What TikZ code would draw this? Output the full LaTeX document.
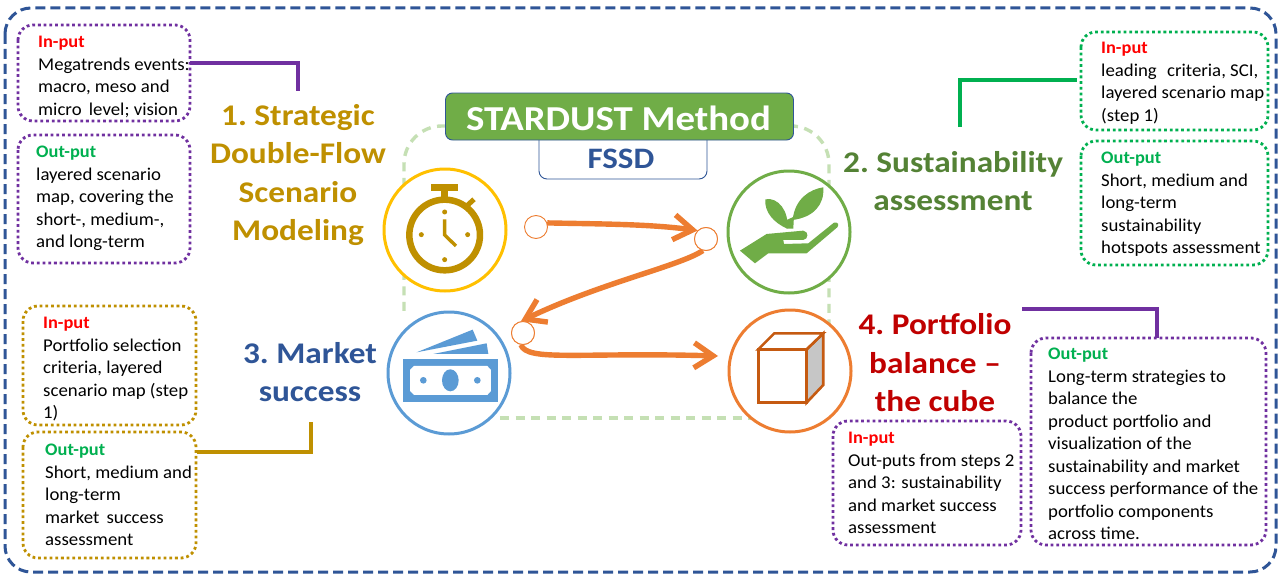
\documentclass[tikz,border=0pt]{standalone}
\usepackage{fontspec}
\setmainfont[FakeStretch=1.045]{Carlito}
\newfontfamily\ttlfont[FakeStretch=1.11]{Carlito}
\usetikzlibrary{arrows.meta,calc}
\definecolor{navy}{HTML}{2F5597}
\definecolor{gold}{HTML}{BF9000}
\definecolor{yel}{HTML}{FFC000}
\definecolor{grn}{HTML}{70AD47}
\definecolor{dgrn}{HTML}{548235}
\definecolor{sky}{HTML}{5B9BD5}
\definecolor{org}{HTML}{ED7D31}
\definecolor{rust}{HTML}{C55A11}
\definecolor{purp}{HTML}{7030A0}
\definecolor{lgrn}{HTML}{C5E0B4}
\definecolor{ogrn}{HTML}{00B050}
\definecolor{dred}{HTML}{C00000}
\tikzset{
 x=1pt,y=-1pt,
 dotbox/.style={draw=#1,line width=2.8pt,dash pattern=on 2.8pt off 2.9pt,rounded corners=15pt},
 txt/.style={anchor=north west,align=left,inner sep=0pt,font=\fontsize{18}{22.5}\selectfont,text=black},
 ttl/.style={align=center,inner sep=0pt,font=\ttlfont\fontsize{30}{38.5}\selectfont\bfseries\frenchspacing},
 ring/.style={circle,draw=#1,line width=3pt,fill=white,minimum size=122pt,inner sep=0pt},
 dot/.style={circle,draw=org,line width=0.9pt,fill=white,minimum size=23pt,inner sep=0pt},
 flow/.style={draw=org,line width=5.4pt,-{Straight Barb[length=19pt,width=25pt,line width=5.4pt]}},
 link/.style={line width=3.4pt},
}
\newcommand{\inp}{{\fontsize{17.6}{22.5}\selectfont\bfseries\textcolor{red}{In-put}}}
\newcommand{\oup}{{\fontsize{17.6}{22.5}\selectfont\bfseries\textcolor{ogrn}{Out-put}}}
\begin{document}
\begin{tikzpicture}
\useasboundingbox (0,0) rectangle (1280,578);
\fill[white] (0,0) rectangle (1280,578);
\draw[navy,line width=3pt,dash pattern=on 10pt off 5pt,rounded corners=26pt] (5,8) rectangle (1276,572);
% inner dashed frame
\draw[lgrn,line width=3.4pt,dash pattern=on 9pt off 6.5pt,rounded corners=38pt] (446,126) -- (404,126) -- (404,314);
\draw[lgrn,line width=3.4pt,dash pattern=on 9pt off 6.5pt,rounded corners=38pt] (793,126) -- (829,126) -- (829,340);
\draw[lgrn,line width=3.4pt,dash pattern=on 9pt off 6.5pt] (500,418) -- (760,418);
% header
\node[draw=navy,line width=0.9pt,fill=white,minimum width=168pt,minimum height=59pt,inner sep=0pt,rounded corners=8pt] (fssdbox) at (623,149.5) {};
\node[text=navy,inner sep=0pt,font=\ttlfont\fontsize{29.7}{30}\selectfont\bfseries] (fssd) at (621,159) {FSSD};
\node[draw=navy,line width=0.9pt,fill=grn,minimum width=348pt,minimum height=47pt,inner sep=0pt,rounded corners=7pt] (headbox) at (619.5,116.5) {};
\node[text=white,inner sep=0pt,font=\ttlfont\fontsize{35}{36}\selectfont\bfseries] (head) at (618.5,118) {STARDUST Method};
% boxes
\draw[dotbox=purp] (18,25) rectangle (190,121);
\node[txt] at (38,36) {\inp\\Megatrends events:\\macro, meso and\\micro\, level; vision};
\draw[dotbox=purp] (18,135) rectangle (190,263);
\node[txt] at (36,146) {\oup\\layered scenario\\map, covering the\\short-, medium-,\\and long-term};
\draw[dotbox=ogrn] (1081,32) rectangle (1268,130);
\node[txt] at (1101,42) {\inp\\leading\,\, criteria, SCI,\\layered scenario map\\(step 1)};
\draw[dotbox=ogrn] (1081,141) rectangle (1268,265);
\node[txt] at (1101,152) {\oup\\Short, medium and\\long-term\\sustainability\\hotspots assessment};
\draw[dotbox=gold] (23,306) rectangle (196,425);
\node[txt] at (43,317) {\inp\\Portfolio selection\\criteria, layered\\scenario map (step\\1)};
\draw[dotbox=gold] (23,432) rectangle (196,558);
\node[txt] at (45,444) {\oup\\Short, medium and\\long-term\\market\, success\\assessment};
\draw[dotbox=purp] (833,421) rectangle (1021,545);
\node[txt] at (848,432) {\inp\\Out-puts from steps 2\\and 3: sustainability\\and market success\\assessment};
\draw[dotbox=purp] (1031,338) rectangle (1266,545);
\node[txt] at (1048,348) {\oup\\Long-term strategies to\\balance the\\product portfolio and\\visualization of the\\sustainability and market\\success performance of the\\portfolio components\\across time.};
% titles
\node[ttl,text=gold] (t1) at (298,175) {1. Strategic\\Double-Flow\\Scenario\\Modeling};
\node[ttl,text=dgrn] (t2) at (953,181) {2. Sustainability\\assessment};
\node[ttl,text=navy] (t3) at (310,372) {3. Market\\success};
\node[ttl,text=dred] (t4) at (935,363) {4. Portfolio\\balance –\\the cube};
% links
\coordinate (l1a) at (190,63); \coordinate (l1b) at (298,91);
\draw[link,purp] (l1a) -| (l1b);
\coordinate (l2a) at (960,127); \coordinate (l2b) at (1077,80);
\draw[link,ogrn] (l2a) |- (l2b);
\coordinate (l3a) at (197,452); \coordinate (l3b) at (311,422);
\draw[link,gold] (l3a) -| (l3b);
\coordinate (l4a) at (1022,309); \coordinate (l4b) at (1157,338);
\draw[link,purp] (l4a) -| (l4b);
% rings
\node[ring=yel] (clock) at (445,230) {};
\node[ring=grn] (plant) at (789,232) {};
\node[ring=sky] (money) at (449,373) {};
\node[ring=org] (cube) at (790,371) {};
% icons in zoom coordinates
\begin{scope}[shift={(370,80)},x=0.3333pt,y=-0.3333pt]
 % clock
 \draw[gold,line width=6.5pt] (224,465) circle[radius=106];
 \fill[gold] (182,312) rectangle (265,332);
 \fill[gold] (214,332) rectangle (234,365);
 \draw[gold,line width=5pt] (290,378) -- (312,358);
 \draw[gold,line width=3.4pt] (224,418) -- (224,465) -- (258,498);
 \foreach \p in {(224,396),(224,539),(154,464),(293,464)} \fill[gold] \p circle[radius=7.5];
 % plant
 \fill[grn] (1110,512) -- (1190,462) -- (1300,452) .. controls (1318,455) and (1315,478) .. (1300,480) -- (1240,480) -- (1242,492) -- (1315,490) -- (1392,428) .. controls (1405,425) and (1408,435) .. (1402,442) -- (1310,520) -- (1195,520) -- (1155,550) -- cycle;
 \fill[grn] (1252,446) .. controls (1258,395) and (1225,350) .. (1186,358) .. controls (1183,395) and (1210,428) .. (1252,446) -- cycle;
 \fill[grn] (1268,420) .. controls (1275,355) and (1320,328) .. (1360,322) .. controls (1364,375) and (1330,412) .. (1268,420) -- cycle;
 \fill[grn] (1250,420) -- (1272,410) -- (1270,446) -- (1250,446) -- cycle;
 % money
 \fill[sky] (100,838) rectangle (383,966);
 \fill[white] (132,858) -- (352,858) -- (363,870) -- (363,933) -- (352,945) -- (132,945) -- (120,933) -- (120,870) -- cycle;
 \fill[sky] (241,901) ellipse[x radius=25,y radius=33];
 \fill[sky] (160,901) circle[radius=10];
 \fill[sky] (322,901) circle[radius=10];
 \fill[sky] (140,817) -- (308,749) -- (322,782) -- cycle;
 \fill[sky] (190,822) -- (350,790) -- (355,822) -- cycle;
 % cube
 \filldraw[fill=gray!45,draw=rust,line width=2.6pt] (1310,808) -- (1360,760) -- (1360,915) -- (1310,968) -- cycle;
 \filldraw[fill=white,draw=rust,line width=2.6pt] (1165,808) -- (1213,760) -- (1360,760) -- (1310,808) -- cycle;
 \filldraw[fill=white,draw=rust,line width=2.6pt] (1165,808) rectangle (1310,968);
\end{scope}
% flows
\node[dot] (d1) at (536,227) {};
\node[dot] (d2) at (706,239) {};
\node[dot] (d3) at (523,333) {};
\coordinate (end3) at (718,356);
\draw[flow] (d1.20) .. controls (600,224) and (650,224) .. (d2.135);
\draw[flow] (d2.-105) .. controls (680,266) and (600,283) .. (d3.100);
\draw[flow] (d3.-100) .. controls (527,362) and (580,352) .. (end3);
\node[dot] at (d2) {};
\node[dot] at (d3) {};
\end{tikzpicture}
\end{document}
